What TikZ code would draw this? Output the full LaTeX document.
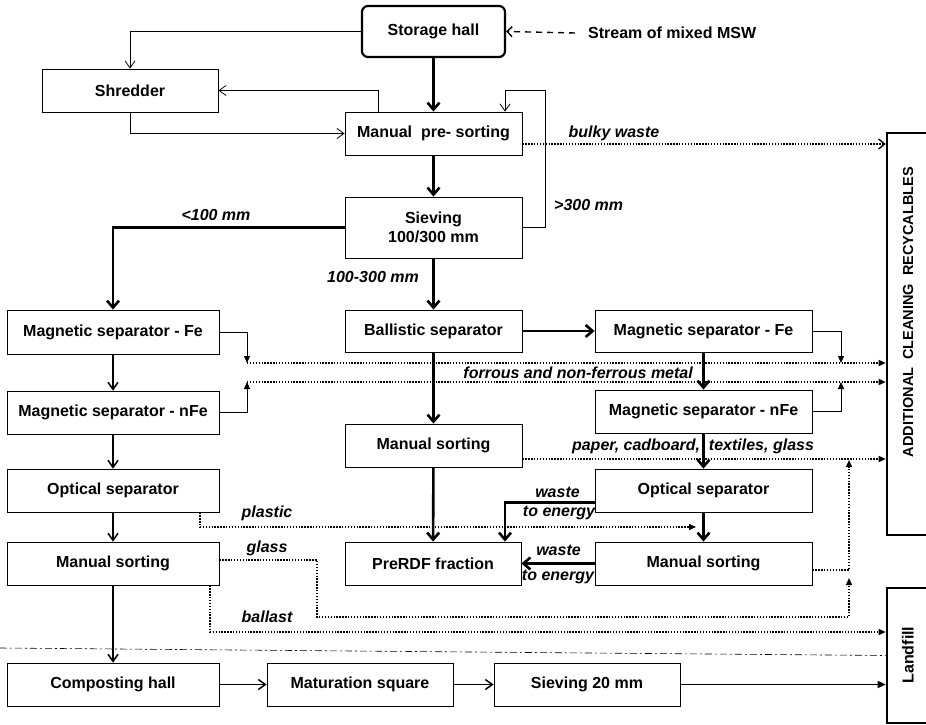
\documentclass[tikz,border=0pt]{standalone}
\usepackage{fontspec}
\setmainfont{Liberation Sans}
\usetikzlibrary{arrows.meta}
\newcommand{\boxfont}{\bfseries\fontsize{16}{19}\selectfont}
\newcommand{\labfont}{\bfseries\itshape\fontsize{16}{19}\selectfont}
\newcommand{\sidefont}{\bfseries\fontsize{14.5}{17}\selectfont}
\tikzset{
  box/.style={draw, line width=0.8pt, minimum height=43pt, inner sep=0pt, font=\boxfont, align=center},
  sidebox/.style={draw, line width=2.6pt, minimum width=60pt, inner sep=0pt},
  lab/.style={font=\labfont, inner sep=0pt},
  sidelab/.style={rotate=90, inner sep=0pt},
  thinarr/.style={line width=0.8pt, -{Straight Barb[length=7pt,width=10pt]}},
  midarr/.style={line width=1.5pt, -{Straight Barb[length=7pt,width=10pt]}},
  midtri/.style={line width=1.5pt, -{Triangle[length=8pt,width=7pt]}},
  thickarr/.style={line width=2.6pt, -{Straight Barb[length=7pt,width=12pt]}},
  tinytri/.style={line width=0.8pt, -{Triangle[length=7pt,width=6pt]}},
  dotarr/.style={line width=1.4pt, dash pattern=on 1.4pt off 1.5pt, -{Triangle[length=7pt,width=6pt]}},
  dotopen/.style={line width=1.4pt, dash pattern=on 1.4pt off 1.5pt, -{Straight Barb[length=6pt,width=10pt]}},
  dashin/.style={line width=1.4pt, dash pattern=on 6pt off 5pt, -{Straight Barb[length=5pt,width=10pt]}},
  divide/.style={line width=0.6pt, dash pattern=on 7pt off 3pt on 2pt off 3pt}
}

\begin{document}
\begin{tikzpicture}[x=1pt,y=-1pt]
  \useasboundingbox (0,0) rectangle (926,725);

  % top part
  \node[box, line width=2.2pt, rounded corners=6pt, minimum width=143pt, minimum height=51pt] (store) at (433.5,31.5) {Storage hall};
  \node[font=\boxfont, inner sep=0pt, anchor=west] (stream) at (588,33) {Stream of mixed MSW};
  \node[box, minimum width=176pt] (shred) at (130,90.5) {Shredder};
  \node[box, minimum width=177pt] (presort) at (433.5,133.5) {Manual~ pre- sorting};
  \node[box, minimum width=177pt, minimum height=61pt] (sieve) at (433.5,227.5) {Sieving\\100/300 mm};

  % left line
  \node[box, minimum width=212pt, minimum height=44pt] (magfeL) at (113,332) {Magnetic separator - Fe};
  \node[box, minimum width=212pt] (magnfeL) at (113,412.5) {Magnetic separator - nFe};
  \node[box, minimum width=212pt] (optL) at (113,490.5) {Optical separator};
  \node[box, minimum width=212pt] (msortL) at (113,563.5) {Manual sorting};

  % middle line
  \node[box, minimum width=177pt, minimum height=42pt] (ballis) at (433.5,331) {Ballistic separator};
  \node[box, minimum width=177pt] (msort) at (433.5,445.5) {Manual sorting};
  \node[box, minimum width=176pt] (prerdf) at (433,563.5) {PreRDF fraction};

  % right line
  \node[box, minimum width=217pt, minimum height=42pt] (magfeR) at (703.5,331) {Magnetic separator - Fe};
  \node[box, minimum width=217pt] (magnfeR) at (703.5,411.5) {Magnetic separator - nFe};
  \node[box, minimum width=217pt] (optR) at (703.5,490.5) {Optical separator};
  \node[box, minimum width=217pt] (msortR) at (703.5,563.5) {Manual sorting};

  % bottom line
  \node[box, minimum width=212pt] (compost) at (113,684.5) {Composting hall};
  \node[box, minimum width=186pt] (matur) at (360,684.5) {Maturation square};
  \node[box, minimum width=186pt] (sieveB) at (587,684.5) {Sieving 20 mm};

  % outputs
  \node[sidebox, minimum height=402pt] (addit) at (917,334) {};
  \node[sidelab, font=\sidefont] (additlab) at (908,312) {ADDITIONAL~ CLEANING~ RECYCALBLES};
  \node[sidebox, minimum height=135pt] (landfill) at (917,655.5) {};
  \node[sidelab, font=\boxfont] (landlab) at (908,655) {Landfill};

  \coordinate (metA) at (247,363);
  \coordinate (metB) at (247,382);
  \coordinate (metC) at (841,363);
  \coordinate (metD) at (841,382);
  \coordinate (plast) at (696,527);
  \coordinate (gl1) at (317,617);
  \coordinate (gl2) at (849,578);
  \coordinate (gl3) at (849,460);

  \draw[dashin] ([xshift=-13pt]stream.west) -- (store.east);
  \draw[thinarr] (store.west) -| (shred.north);
  \draw[thickarr] (store) -- (presort);
  \draw[thinarr] ([xshift=-55.5pt]presort.north) |- (shred.east);
  \draw[thinarr] (shred.south) |- (presort.west);
  \draw[thinarr] (sieve.east) -- ++(23,0) |- ([xshift=71.5pt,yshift=21pt]presort.north) -- ([xshift=71.5pt]presort.north);
  \draw[thickarr] (presort) -- (sieve);
  \draw[dotopen] ([yshift=-10.5pt]presort.east) -- ([yshift=-10.5pt]presort.east -| addit.west);

  \draw[thickarr] (sieve.west) -| (magfeL.north);
  \draw[thickarr] (sieve) -- (ballis);
  \draw[thickarr] (ballis) -- (magfeR);
  \draw[thickarr] (ballis) -- (msort);
  \draw[thickarr] (msort) -- (prerdf);
  \draw[thickarr] (magfeR) -- (magnfeR);
  \draw[thickarr] (magnfeR) -- (optR);
  \draw[thickarr] (optR) -- (msortR);
  \draw[thickarr] (msortR.west) -- (prerdf.east);
  \draw[thickarr] ([yshift=-12pt]optR.west) -| ([xshift=72pt]prerdf.north);

  \draw[midarr] (magfeL) -- (magnfeL);
  \draw[midarr] (magnfeL) -- (optL);
  \draw[midarr] (optL) -- (msortL);
  \draw[midarr] (msortL) -- (compost);
  \draw[midarr] (compost) -- (matur);
  \draw[midarr] (matur) -- (sieveB);
  \draw[midtri] (sieveB.east) -- (sieveB.east -| landfill.west);

  % metals
  \draw[tinytri] (magfeL.east) -| (metA);
  \draw[tinytri] (magnfeL.east) -| (metB);
  \draw[tinytri] (magfeR.east) -| (metC);
  \draw[tinytri] (magnfeR.east) -| (metD);
  \draw[dotarr] (metA) -- (metA -| addit.west);
  \draw[dotarr] (metB) -- (metB -| addit.west);

  \draw[dotarr] ([yshift=-13.5pt]msort.east) -- ([yshift=-13.5pt]msort.east -| addit.west);
  \draw[dotarr] ([xshift=87pt]optL.south) |- (plast);
  \draw[dotarr] ([yshift=3.5pt]msortL.east) -| (gl1) -| (gl2);
  \draw[dotarr] ([yshift=-6.5pt]msortR.east) -| (gl3);
  \draw[dotarr] ([xshift=97pt]msortL.south) |- ([yshift=23.5pt]landfill.west);
  \draw[divide] (0,648) -- (landfill.west);

  % labels
  \node[lab] (lbulky) at (614,133) {bulky waste};
  \node[lab, anchor=west] (lover) at (554,205) {>300 mm};
  \node[lab] (lunder) at (216,215) {<100 mm};
  \node[lab] (lmid) at (373,277) {100-300 mm};
  \node[lab, anchor=east] (lmetal) at (693,373) {forrous and non-ferrous metal};
  \node[lab] (lpaper) at (693,446) {paper, cadboard,~ textiles, glass};
  \node[lab] (lplast) at (267,513) {plastic};
  \node[lab] (lglass) at (267,548) {glass};
  \node[lab] (lball) at (267,617) {ballast};
  \node[lab] (wasteA) at (557.5,492) {waste};
  \node[lab] (energyA) at (559,513) {to energy};
  \node[lab] (wasteB) at (558.5,550) {waste};
  \node[lab] (energyB) at (558,577) {to energy};
\end{tikzpicture}
\end{document}
